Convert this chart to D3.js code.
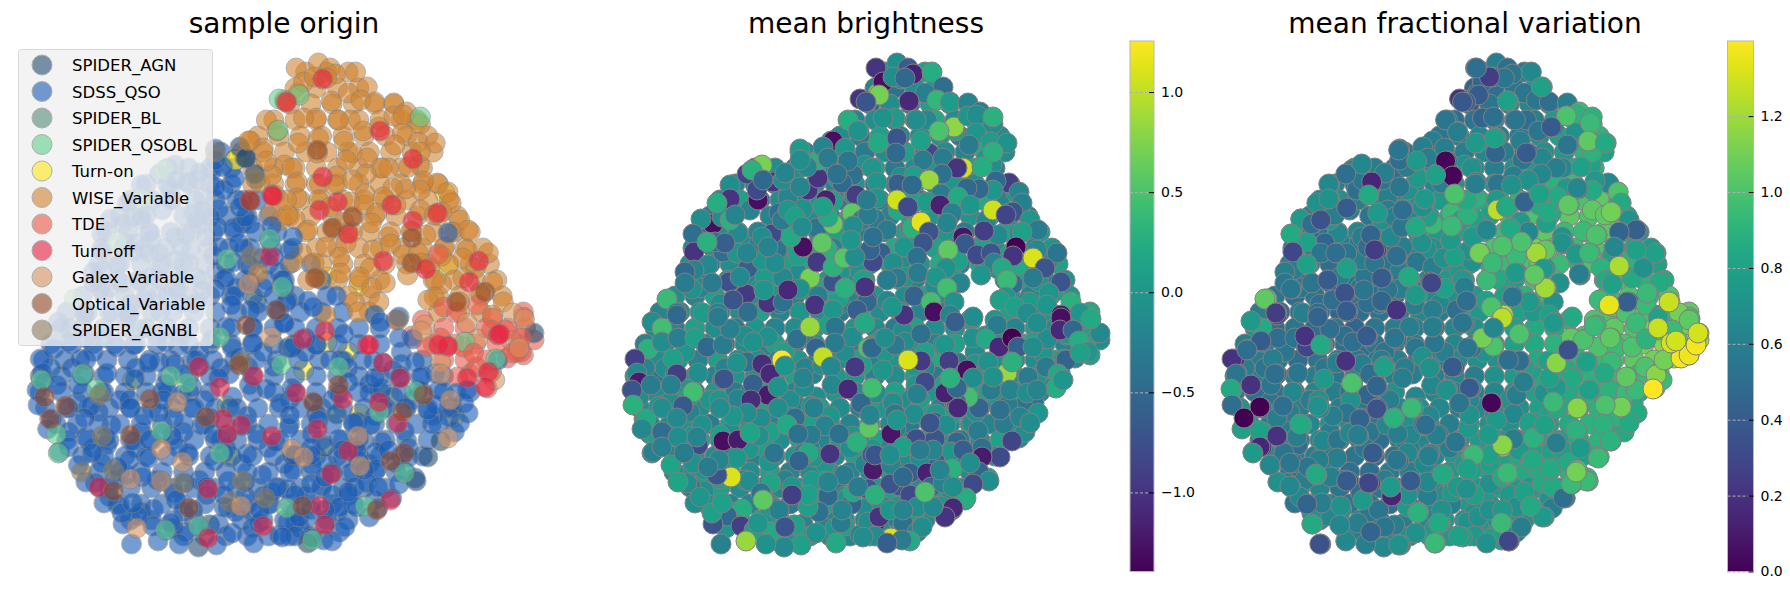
<!DOCTYPE html>
<html>
<head>
<meta charset="utf-8">
<script src="https://cdn.jsdelivr.net/npm/d3@7"></script>
<style>
body { margin: 0; background: white; }
text { font-family: "DejaVu Sans", sans-serif; fill: black; }
</style>
</head>
<body>
<div id="chart"></div>
<script>
var originNames = ["SPIDER_AGN", "SDSS_QSO", "SPIDER_BL", "SPIDER_QSOBL", "Turn-on", "WISE_Variable", "TDE", "Turn-off", "Galex_Variable", "Optical_Variable", "SPIDER_AGNBL"];
var originColors = ["#254d73", "#1b5db7", "#5a8c7b", "#62cf8c", "#ffe817", "#d28430", "#ed5a49", "#e82041", "#d79462", "#944928", "#8c7b5a"];

var brightnessTicks = [-1.0, -0.5, 0.0, 0.5, 1.0];
var fracTicks = [0.0, 0.2, 0.4, 0.6, 0.8, 1.0, 1.2];

// the crowd that is mostly hidden under the top discs, by origin
// rows are [embedding x, embedding y, mean brightness, mean fractional variation]
var fillWise = [
[285,72,-.1,.55],[305,72,-.3,.5],[325,72,.1,.6],
[275,88,-.2,.45],[295,88,-.4,.5],[315,88,-.1,.55],[335,88,0,.7],
[270,104,-.5,.4],[290,104,-.1,.55],[310,104,-.3,.6],[330,104,.1,.65],[350,104,-.2,.7],[368,104,0,.8],
[255,120,-.2,.5],[275,120,-.1,.55],[295,120,-.4,.6],[315,120,0,.55],[335,120,.2,.6],[355,120,-.1,.75],[375,120,-.2,.9],[390,120,.1,.95],
[240,136,-.1,.55],[260,136,-.3,.6],[280,136,.1,.65],[300,136,-.2,.6],[320,136,-.1,.55],[340,136,0,.7],[360,136,-.3,.8],[380,136,.1,.85],[400,136,-.1,.9],
[225,152,-.2,.6],[245,152,0,.55],[265,152,-.3,.6],[285,152,-.1,.65],[305,152,.1,.6],[325,152,-.4,.55],[345,152,-.1,.7],[365,152,-.2,.75],[385,152,.2,.9],[405,152,-.1,.8],
[235,168,-.1,.6],[255,168,-.2,.65],[275,168,.1,.7],[295,168,-.3,.6],[315,168,-.1,.7],[335,168,0,.75],[355,168,-.2,.8],[375,168,.1,.85],[395,168,-.3,.9],
[235,184,-.2,.65],[255,184,0,.7],[275,184,-.3,.75],[295,184,-.1,.7],[315,184,.1,.8],[335,184,-.2,.85],[355,184,0,.9],[375,184,-.1,.95],[395,184,.1,.95],[410,184,-.4,.8],
[260,200,-.1,.8],[280,200,-.3,.85],[300,200,.1,.8],[320,200,-.2,.9],[340,200,0,.95],[360,200,-.1,1],[380,200,.2,1],[400,200,-.2,1.05],[420,200,-.1,.85],
[270,216,0,.9],[290,216,-.2,.8],[310,216,.1,.95],[330,216,-.1,1],[350,216,-.3,.9],[370,216,0,1.05],[390,216,.2,1],[410,216,-.1,1.05],[428,216,-.2,.8],
[285,232,-.1,.85],[305,232,.1,.95],[325,232,-.2,1],[345,232,0,1.05],[365,232,-.3,.95],[385,232,-.1,1],[405,232,.1,1.05],[425,232,-.2,.75],[440,232,0,.7],
[295,248,.2,1],[315,248,-.1,.95],[335,248,.1,1.1],[355,248,-.2,1],[375,248,0,.95],[395,248,-.1,1],[415,248,.1,.9],[435,248,-.2,.8],[452,248,0,.75],
[300,264,-.1,.95],[320,264,0,1],[340,264,.2,1.05],[360,264,-.2,.95],[380,264,.1,.9],[400,264,-.1,.95],[420,264,0,1.1],[440,264,-.2,.85],[458,264,.1,.8],
[315,280,-.2,.8],[335,280,.1,1],[355,280,0,.95],[405,280,-.1,.9],[425,280,.1,1],[445,280,-.3,.9],[465,280,0,.85],
[325,296,.1,.9],[345,296,-.1,.95],[410,296,0,.95],[430,296,-.2,1],[450,296,.1,.95],[470,296,0,1],
[345,312,-.2,.85],[410,312,.1,1],[430,312,-.1,1.05],[450,312,0,1]
];

var fillTip = [
[490,312,.2,1.05],[370,320,-.1,.9],[395,320,0,1],[415,328,-.2,1.05],[435,328,.1,1],[455,328,-.1,1.1],[475,328,0,1.15],[492,328,.1,1.1],
[385,336,0,1],[405,344,-.1,1.05],[425,344,.2,1],[445,344,0,1.1],[465,344,-.2,1.15],[485,344,.1,1.2],[500,340,-.1,1.2],
[415,360,0,1],[435,360,-.1,1.05],[455,360,.1,1.1],[475,358,-.2,1.25],[490,355,.1,1.3],[440,374,0,.95],[460,372,-.1,1.05]
];

var fillQso = [
[205,152,-.2,.55],[155,168,-.3,.55],[175,168,-.1,.6],[195,168,0,.5],[215,168,-.4,.6],
[135,184,-.2,.6],[155,184,-.1,.55],[175,184,-.3,.5],[195,184,0,.6],[215,184,-.2,.65],
[120,200,-.1,.65],[140,200,.1,.7],[160,200,-.4,.55],[180,200,-.1,.6],[200,200,-.2,.65],[220,200,0,.7],[240,200,-.3,.75],
[110,216,-.3,.6],[130,216,0,.65],[150,210,-.2,.6],[170,216,-.2,.55],[190,216,.1,.6],[210,216,-.1,.65],[230,216,-.3,.75],[250,216,0,.85],
[98,232,-.4,.6],[118,232,-.1,.55],[138,232,.1,.6],[158,232,-.2,.65],[178,232,-.1,.5],[198,232,0,.6],[218,232,-.2,.7],[238,232,.1,.75],[258,232,-.3,.8],
[93,248,-.2,.55],[113,248,-.1,.5],[133,248,0,.6],[153,248,-.3,.55],[193,248,.1,.55],[213,248,-.1,.65],[233,248,-.2,.7],[253,248,0,.75],[273,248,-.1,.85],
[90,264,-.1,.6],[110,264,-.4,.55],[130,264,-.1,.5],[150,264,0,.6],[170,264,-.2,.5],[190,264,.1,.55],[210,264,-.2,.6],[230,264,-.1,.65],[250,264,0,.75],[270,264,-.3,.8],[290,264,.1,.9],
[88,280,-.3,.6],[108,280,-.1,.55],[128,280,0,.5],[148,280,-.2,.55],[168,280,.1,.6],[188,280,-.4,.5],[208,280,-.1,.6],[228,280,0,.65],[248,280,-.2,.75],[300,280,-.1,.8],
[75,296,-.1,.55],[95,296,-.2,.5],[115,296,.1,.55],[135,296,-.3,.5],[155,296,-.1,.55],[175,296,0,.5],[195,296,-.2,.55],[215,296,-.1,.6],[235,296,.1,.65],[255,296,-.2,.7],[275,296,0,.75],[305,296,-.1,.8],
[60,312,-.2,.6],[80,312,-.1,.5],[100,312,0,.55],[120,312,-.3,.5],[140,312,-.1,.45],[160,312,.1,.5],[180,312,-.2,.55],[200,312,0,.6],[220,312,-.1,.65],[240,312,-.3,.6],[260,312,.1,.7],[280,312,-.1,.75],[300,312,0,.8],[320,312,-.2,.8],
[55,328,-.1,.7],[75,328,-.2,.5],[95,328,.1,.55],[115,328,-.1,.5],[135,328,-.3,.55],[155,328,0,.45],[175,328,-.2,.55],[195,328,-.1,.6],[215,328,.1,.6],[235,328,-.2,.6],[255,328,0,.65],[275,328,-.1,.7],[295,328,-.3,.75],[315,328,.1,.8],[335,328,-.1,.85],[355,328,0,.85],
[45,344,-.2,.6],[65,344,-.1,.55],[85,344,0,.5],[105,344,-.2,.55],[125,344,-.3,.55],[145,344,-.1,.5],[165,346,-.2,.5],[175,344,.1,.55],[195,344,-.2,.55],[215,344,0,.6],[235,344,-.1,.6],[255,344,-.3,.65],[275,344,.1,.65],[295,344,-.1,.7],[315,344,0,.8],[335,344,-.2,.85],[355,344,.1,.9],[375,352,-.1,.9],
[38,360,-.3,.55],[58,360,-.1,.6],[78,360,0,.55],[98,360,-.2,.5],[118,360,.1,.55],[138,360,-.1,.6],[158,360,-.1,.55],[178,360,-.2,.55],[198,360,0,.6],[218,360,-.3,.6],[238,360,-.1,.6],[258,360,.1,.65],[278,360,-.2,.7],[298,360,0,.7],[318,360,-.1,.8],[338,360,.2,.85],[375,364,0,.9],[395,360,-.1,.95],
[35,376,-.1,.55],[55,376,-.4,.6],[75,376,.1,.55],[95,376,-.1,.6],[115,376,-.2,.6],[135,376,0,.55],[155,376,-.1,.6],[175,376,-.3,.55],[195,376,.1,.6],[213,374,-.2,.6],[235,376,-.1,.6],[255,376,0,.65],[275,376,-.2,.6],[295,376,-.1,.7],[315,376,.1,.75],[335,376,-.3,.8],[355,376,0,.85],[375,376,-.1,.85],[395,376,.1,.9],[415,376,.1,.95],
[35,392,-.2,.6],[55,392,-.1,.5],[75,392,.1,.55],[95,392,-.2,.6],[115,392,0,.65],[135,392,-.3,.6],[155,392,-.1,.6],[175,392,.1,.65],[195,392,-.2,.7],[216,397,-.1,.65],[235,392,0,.65],[255,392,-.1,.6],[275,392,-.2,.6],[295,392,.1,.65],[315,392,-.1,.7],[335,392,0,.8],[355,392,-.2,.85],[375,392,.1,.85],[395,392,-.1,.9],[415,392,0,.9],[440,392,-.2,.85],
[40,408,-.1,.7],[60,408,-.2,.55],[80,408,0,.55],[100,408,-.1,.6],[120,408,.1,.65],[140,408,-.2,.6],[160,408,-.1,.55],[180,408,0,.6],[200,408,-.3,.65],[220,408,.1,.7],[240,408,-.1,.65],[260,408,-.2,.6],[280,408,0,.65],[300,408,-.1,.7],[320,408,.1,.7],[340,408,-.2,.8],[360,408,-.1,.85],[380,408,0,.85],[400,408,-.3,.9],[420,408,-.1,.9],
[50,424,-.2,.7],[70,424,-.1,.6],[90,424,0,.6],[110,424,-.3,.65],[130,424,.1,.7],[150,424,-.1,.65],[170,424,-.2,.55],[190,424,0,.65],[210,424,-.1,.7],[230,424,.1,.65],[250,424,-.2,.6],[270,424,0,.7],[290,424,-.1,.7],[310,424,-.3,.7],[330,424,.1,.75],[350,424,-.1,.8],[370,424,0,.85],[390,424,-.2,.9],[410,424,-.1,.85],
[60,440,-.1,.6],[80,440,-.2,.55],[100,440,.1,.6],[120,440,-.1,.65],[140,440,0,.6],[160,440,-.3,.55],[180,440,-.1,.5],[200,440,.1,.6],[220,440,-.2,.65],[240,440,0,.6],[260,440,-.1,.7],[280,440,.1,.75],[300,440,-.2,.75],[320,440,-.1,.75],[340,440,0,.8],[360,440,-.3,.8],[380,440,-.1,.85],[400,440,.1,.9],
[75,456,-.2,.65],[95,456,0,.6],[115,456,-.1,.6],[135,456,.1,.55],[155,456,-.2,.55],[175,456,-.1,.5],[195,456,0,.55],[215,456,-.3,.6],[235,456,-.1,.65],[255,456,.1,.75],[275,456,-.2,.8],[295,456,0,.8],[315,456,-.1,.85],[335,456,.1,.85],[355,456,-.2,.85],[375,456,-.1,.9],[395,456,0,.9],
[90,472,-.1,.55],[110,472,-.3,.6],[130,472,0,.6],[150,472,-.1,.5],[170,472,.1,.5],[190,472,-.2,.6],[210,472,-.1,.6],[230,472,0,.65],[250,472,-.2,.75],[270,472,-.1,.75],[290,472,.1,.8],[310,472,-.1,.8],[330,472,-.3,.8],[350,472,0,.85],[370,472,-.1,.9],[388,478,.1,.95],
[100,488,-.2,.6],[120,488,.1,.65],[140,488,-.1,.55],[160,488,0,.5],[180,488,-.2,.55],[200,488,-.1,.6],[220,488,.1,.6],[240,488,-.3,.7],[260,488,-.1,.75],[280,488,0,.75],[300,488,-.2,.8],[320,488,-.1,.75],[340,488,.1,.8],[360,488,-.1,.8],
[110,504,-.1,.6],[130,504,-.2,.65],[150,504,-.2,.55],[170,504,0,.55],[190,504,-.3,.5],[212,508,-.1,.55],[230,504,-.1,.6],[250,504,.1,.7],[270,504,-.2,.75],[290,504,-.1,.7],[310,504,0,.8],[330,504,-.2,.75],[350,500,-.1,.7],
[120,520,-.2,.7],[140,520,-.1,.65],[160,520,.1,.6],[180,520,-.1,.55],[203,524,-.2,.6],[225,520,-.2,.65],[245,520,0,.75],[265,520,-.1,.75],[285,520,-.3,.7],[305,520,.1,.85],[325,520,-.1,.7],
[170,536,-.1,.55],[190,536,0,.65],[210,536,.1,.7],[230,536,-.1,.8],[250,536,-.2,.75],[270,536,0,.8],[290,536,.1,.7],
[70,402,-.1,.55],[90,412,-.2,.6],[110,400,0,.6],[130,432,-.1,.6],[150,392,-.2,.55],[170,432,.1,.55],[190,400,-.1,.6],[210,448,-.2,.6],[230,416,0,.65],[250,448,-.1,.6],[270,400,.1,.65],[290,448,-.2,.75],[310,400,-.1,.7],[330,448,0,.8],[350,416,-.2,.8],
[85,448,-.1,.6],[105,480,0,.6],[125,448,-.2,.6],[145,480,-.1,.5],[165,448,.1,.55],[185,480,-.2,.6],[205,440,-.1,.6],[225,464,0,.65],[245,496,-.1,.7],[265,464,-.2,.75],[285,496,.1,.75],[305,464,-.1,.8],[325,496,0,.8],[345,464,-.2,.85],
[130,512,-.1,.6],[170,512,0,.55],[235,512,-.2,.65],[275,512,-.1,.7],[315,512,.1,.75],[160,528,-.2,.55],[235,528,0,.75],[280,528,-.1,.75],
[45,368,-.2,.6],[65,368,-.1,.55],[85,352,0,.55],[125,368,-.2,.55],[145,336,-.1,.5],[185,352,.1,.55],[205,368,-.2,.6],[245,352,-.1,.6],[285,352,0,.7],[325,368,-.2,.8],[345,384,.1,.85],[385,400,-.1,.9],[405,416,0,.9],
[100,288,-.2,.55],[120,304,-.1,.5],[160,288,0,.55],[180,304,-.3,.55],[200,272,-.1,.6],[220,288,.1,.65],[240,304,-.2,.65],[260,272,0,.75],[140,240,-.1,.6],[185,224,-.2,.55],[225,224,0,.7]
];

// seen in the sample origin panel, they sit on top of the fill there
// rows are [embedding x, embedding y, origin index, mean brightness]
var originAccents = [
[301,79,7,-.1],[267,102,7,-.3],[355,131,7,.1],[386,159,7,0],[301,177,7,-.1],[315,202,7,.1],[298,210,7,.2],[366,205,7,0],[386,221,7,-.2],[409,213,7,-.1],
[325,234,7,0],[358,261,7,.1],[448,261,7,-.2],[439,282,7,0],[466,335,7,-.1],[251,256,7,-.2],[253,195,7,.1],[232,200,7,-.3],[303,331,7,-.1],[282,339,7,0],[343,345,7,-.2],
[296,150,9,-.1],[329,217,9,0],[310,228,9,-.1],[385,238,9,.1],[385,263,9,-.1],[294,278,9,0],[427,302,9,-.2],[454,292,9,.1],
[416,193,4,0],[419,265,4,.2],[305,277,4,0],[390,123,4,.1],[335,286,4,-.1],[259,130,3,.1],[419,233,1,-.1],[398,269,7,0],[410,254,6,.1],
[36,380,3,.1],[75,374,3,-.2],[88,389,3,0],[50,434,3,.1],[52,453,3,0],[158,376,3,-.1],[173,383,3,.1],[149,431,3,0],[204,453,3,-.2],[262,365,3,.1],[263,287,3,0],[211,259,3,.2],[251,239,3,.1],
[267,508,3,-.1],[153,530,3,.1],[184,526,3,0],[291,540,3,-.1],[341,506,3,0],[378,473,3,-.1],[354,412,3,.1],[464,359,3,0],[435,342,3,.1],[204,337,3,-.2],[316,367,3,0],[388,391,3,.1],
[122,380,4,-.1],[91,395,10,0],[271,346,4,.1],[225,361,10,-.1],[238,299,4,.1],[214,457,4,0],[303,446,4,.1],[314,414,4,-.1],[336,414,4,0],[363,395,4,.1],
[184,367,7,-.2],[204,387,7,-.1],[236,376,7,0],[224,425,7,-.2],[211,434,7,-.1],[207,419,7,.1],[253,436,7,0],[276,393,7,-.1],[296,429,7,-.2],[320,399,7,.1],[345,345,7,0],[358,363,7,-.1],[374,378,7,0],
[309,474,7,.1],[325,451,7,-.2],[193,489,7,0],[90,487,7,-.1],[245,526,7,.1],[193,538,7,0],[303,525,7,-.1],[298,506,7,0],[365,500,7,.1],[372,423,7,-.1],[437,378,7,0],[457,372,7,.1],[454,387,7,-.2],[354,402,7,0],[419,346,7,.1],[410,345,7,-.1],[468,334,7,0],[488,338,6,.1],[484,352,6,0],
[39,397,9,-.1],[44,419,9,.1],[59,406,9,0],[138,399,9,-.2],[120,435,9,.1],[93,436,10,0],[74,472,10,-.1],[104,470,10,0],[120,479,8,.1],[104,491,9,-.1],[149,449,8,0],[164,402,8,.1],[191,417,9,-.1],[169,462,8,0],[149,481,8,.1],[169,483,10,-.2],[126,528,8,0],[175,508,9,-.1],[225,481,10,.1],[247,498,10,0],[214,502,10,-.1],
[272,449,8,0],[283,457,8,.1],[292,402,9,-.1],[258,310,9,0],[229,325,9,.1],[252,337,8,-.1],[316,385,9,0],[334,436,8,.1],[376,412,9,-.1],[396,395,9,0],[421,400,8,.1],[419,438,8,-.1],[412,374,8,0],[372,320,10,.1],[394,331,8,-.1],[443,353,6,0],[486,348,8,.1],[282,506,9,-.1],[352,510,9,0],[378,453,9,.1],[365,461,9,-.1],[336,466,8,0],[224,506,8,.1],[222,365,9,-.1],[240,273,5,0],[231,284,8,.1],[233,256,10,-.1],
[211,406,4,0],[325,352,4,.1],[305,342,4,-.1],[283,370,4,0],[425,417,4,.1],[194,525,4,-.1],
[229,158,0,-.1],[200,152,10,0],[231,141,5,.1],[218,160,4,-.1],[238,179,10,0],[233,201,9,.1],[254,196,7,-.1]
];

// the top discs of the middle panel
// rows are [embedding x, embedding y, origin index, mean brightness, mean fractional variation]
var upperLeft = [
[162,165,1,.7,.6],[147,174,1,-.85,.5],[173,182,1,-1,.15],[130,185,1,-.1,.65],[158,200,1,-1.3,.6],[130,199,3,-1,.7],[113,224,1,-1.3,.5],[101,219,1,-.1,.75],[93,234,1,-.45,.85],[94,252,1,-1,.3],
[108,265,1,-.15,.8],[123,252,1,-.45,.55],[137,253,1,0,.5],[148,268,1,-.6,.8],[129,282,1,-.75,.4],[146,294,1,-.95,.35],[92,289,1,-.05,.55],[94,270,1,-.2,.6],[67,299,3,.4,1.05],[77,313,1,-.4,.25],
[103,313,1,.05,.6],[148,312,1,-.45,.4],[168,303,1,-1,.5],[183,302,1,-.4,.45],[165,277,1,.05,.55],[183,278,1,-.15,.4],[210,278,1,.7,.85],[233,282,1,-.7,.3],[218,296,1,-.25,.75],[200,289,1,-.05,.6],
[215,305,1,-1,.6],[198,256,1,.1,.5],[177,250,1,-.35,.25],[172,234,1,-.8,.45],[179,213,1,-.45,.75],[203,247,1,-1.3,.6],[227,249,1,.3,.7],[217,262,1,-.95,.55],[233,267,1,.3,.6],[244,258,1,.55,.7],
[191,237,1,.2,.65],[203,209,1,-.05,.5],[217,228,1,-.35,.85],[233,224,1,.65,.95],[226,200,1,-1.15,.75],[208,190,1,-1,.7],[218,178,1,-1,.75],[219,160,4,.3,.75],[200,149,1,.05,.55],[233,141,5,-1.3,.6],
[223,147,0,-.2,.6],[188,197,1,-.2,.6],[182,220,1,-.3,.7],[164,290,1,0,.55],[133,300,1,-.7,.5],[118,313,1,-.2,.5],[183,180,1,-.1,.55],[197,170,1,-.1,.5],[207,167,1,-.15,.6],[228,158,0,-.3,.6],
[188,290,1,-1.1,.55],[140,277,1,-.15,.6],[112,283,1,-.3,.55],[85,272,1,-.5,.6],[85,283,1,-.3,.55],[138,233,1,-.15,.65],[122,217,1,-.1,.65],[117,203,1,.25,.7],[130,220,1,.3,.75],[135,215,1,-.2,.6],
[115,242,1,-.4,.5],[125,243,1,-.6,.45],[107,242,3,.3,.8],[162,260,1,0,.6],[175,263,1,-.1,.55],[162,237,1,-.1,.6],[168,247,1,-.2,.5],[147,253,1,-.2,.55],[157,190,1,-.8,.5],[152,170,3,.3,.65],
[163,180,1,-.5,.55],[185,173,1,-.2,.6],[188,210,1,0,.6],[200,187,1,-.2,.55],[200,160,1,-.1,.5],[228,217,1,.2,.8],[195,217,1,.1,.6],[202,227,1,-.1,.55],[222,243,1,.6,.7],[223,207,1,.1,.7]
];

var topLobe = [
[265,100,5,-.6,.4],[248,120,5,.25,.55],[258,131,5,-.05,.6],[260,99,3,-1,.2],[278,93,5,.7,.5],[276,68,5,-1,.5],[245,148,5,0,.6],[265,165,5,-.05,.7],[253,175,5,-.4,.55],
[242,183,5,-.5,.6],[272,168,5,0,.7],[277,182,5,0,.65],[248,161,5,-.35,.55],[237,174,0,-.4,.6],[256,195,5,-.9,.85],[297,63,5,-.1,.6],[308,68,5,-.6,.5],[313,74,5,-1.15,.55],[332,72,5,.25,.65],
[283,82,5,-1.3,.45],[293,77,5,-.1,.5],[305,78,5,-.5,.55],[343,87,5,-.45,.75],[325,93,5,-.25,.55],[309,101,5,-1.1,.75],[279,95,3,.7,.4],[266,102,5,-.7,.4],[337,100,5,.35,.55],[350,102,5,.05,.5],
[368,103,5,-.2,.6],[380,112,5,-.25,.95],[295,118,5,.05,.55],[327,120,5,-.15,.5],[283,118,5,-.05,.45],[316,120,5,-.1,.55],[354,127,5,.8,.45],[339,131,5,.5,.55],[368,116,5,0,.95],[377,115,5,-.1,.9],
[393,124,5,-.1,.95],[393,117,3,.3,.9],[376,133,5,0,.7],[391,142,5,.05,.95],[407,143,5,-.05,.85],[369,145,5,-.3,.55],[278,143,5,.2,.7],[297,138,5,-.7,.75],[296,153,5,-.5,.45],[329,153,5,-.8,.4],
[321,141,5,.1,.6],[343,158,5,-.3,.65],[323,160,5,-.3,.55],[392,165,5,-.1,.8],[393,152,5,.3,.9],[363,168,5,1.05,.65],[357,168,5,-1,.6],[382,167,5,.25,.8],[342,174,5,-.4,.65],[314,176,5,.1,.6],
[329,180,5,.85,.7],[298,184,5,-.6,.55],[312,185,5,-.5,.7],[409,183,5,-.9,.65],[396,181,5,-.5,.75],[393,190,5,0,.85],[379,189,5,-.5,.65],[367,188,5,-.5,.75],[419,192,5,-.2,1],[422,203,5,-.25,.85]
];

var upperRight = [
[341,194,5,-.3,.7],[277,198,5,0,.9],[358,197,5,.2,.85],[297,200,5,1.05,.75],[308,207,5,-.8,.8],[327,202,5,.05,.7],[340,205,5,-1.15,.85],[370,205,5,0,1],[393,210,5,1.05,1.05],[413,212,5,-.7,1],
[406,215,5,-.85,1.05],[352,213,5,-.25,.85],[275,219,5,-.3,.8],[430,220,5,0,.7],[438,230,5,-.3,.45],[422,232,5,.1,.7],[398,235,5,-.15,1],[384,231,5,-.9,.95],[347,223,5,-.2,.8],[312,228,5,.3,.85],
[321,222,5,1.15,.75],[287,230,5,-.3,.7],[329,232,5,-.7,.65],[363,237,5,-1.25,.7],[365,244,5,-.65,.75],[323,243,5,-.7,.95],[304,247,5,0,1],[416,247,5,-1.4,.7],[413,256,5,-1,.8],[437,250,5,-.15,.8],
[457,253,5,-.35,.8],[433,258,5,1.1,.9],[445,268,5,-.7,.7],[377,255,5,-.8,.75],[391,253,5,-.7,.95],[348,250,5,.6,1.05],[281,253,5,-.6,1.05],[273,262,5,-.8,.7],[293,263,5,-.1,.95],[317,257,5,-.4,.95],
[394,263,5,-.2,1],[318,273,5,-.3,.75],[346,268,5,-.05,.75],[336,277,5,0,1.05],[360,283,5,-.2,.7],[381,275,5,0,.6],[402,268,5,.2,.9],[297,278,5,-.3,.85],[287,280,5,-.3,.95],[265,280,1,0,.8],
[347,288,5,.45,1.2],[314,296,1,-.55,.55],[331,302,5,.45,.75],[334,312,5,-1.3,.75],[304,315,5,-1,1.25],[268,300,1,-.5,.5],[287,301,1,-.15,.8],[292,307,1,0,1],[354,302,5,-.05,.7],[413,284,5,-.45,.8],
[407,280,5,.4,.85],[433,278,5,-.3,.85],[461,282,5,-.7,.85],[449,293,5,0,.95],[430,302,5,.05,.45],[406,297,5,0,.9],[400,300,5,.1,.95],[471,302,5,.3,1.28],[447,305,6,0,.95],[461,315,5,-1.2,.8],
[415,307,6,.1,1],[490,317,6,.3,1.05],[480,313,8,0,1.1],[427,313,6,-.1,1],[373,317,1,-.1,.85],[350,315,1,-.2,.8],[270,250,1,-.55,.7],[273,237,1,-.4,.75],[255,257,1,-.1,.8],[267,302,1,-.5,.5],
[263,280,1,.1,.75],[265,287,1,-1,.6],[245,288,1,.3,.8],[257,310,1,-.6,.5],[233,310,1,0,.6],[252,213,5,.6,.95],[262,220,5,-.2,.8],[268,215,5,-.3,.9],[267,200,5,-.3,.85],[253,226,1,-.1,.9],[251,240,1,0,.75]
];

var lowerLeft = [
[52,322,1,-.1,.75],[77,315,1,-.5,.3],[62,328,1,.45,.85],[48,349,1,.3,.55],[62,342,1,-.1,.4],[35,359,1,-.9,.2],[73,359,1,.1,.6],[78,338,1,-.25,.5],[95,338,1,.1,.55],[107,347,1,-.5,.3],
[37,373,1,-.15,.55],[39,382,1,-1.2,.4],[32,390,1,-.7,.85],[51,385,1,-.3,.3],[33,405,1,.3,.5],[77,374,1,-.9,.5],[98,373,1,-.1,.55],[93,392,1,.45,.65],[71,385,1,-.25,.55],[83,406,1,-.65,.5],
[62,408,1,-.1,.55],[46,419,1,.2,.7],[42,429,1,-.15,.8],[62,432,1,-.45,.8],[102,425,1,-.05,.85],[77,418,1,-.15,.6],[53,452,1,-.25,.75],[62,447,1,-.25,.2],[78,437,1,-.1,.3],[98,445,1,-.8,.5],
[97,437,1,-.2,.6],[71,465,1,.15,.65],[93,463,1,-.05,.55],[84,453,1,-.3,.55],[91,487,1,-.3,.65],[87,483,1,-.1,.6],[123,441,1,-1.3,.65],[138,440,1,-1.2,.55],[119,400,1,0,.7],[124,379,1,-.7,.75],
[123,345,1,-.3,.8],[130,329,1,-.25,.5],[118,317,1,-.3,.45],[147,362,1,-.4,.2],[137,363,1,-.05,.6],[153,384,1,-.6,1],[162,364,1,-1.05,.6],[170,374,1,-1.1,.5],[168,395,1,-1.2,.45],[151,400,1,-1.05,.7],
[178,387,1,-.05,.45],[182,360,1,1.25,.6],[185,366,1,0,.6],[168,337,1,-.05,.45],[153,342,1,-.05,.5],[197,339,1,-.4,.55],[210,327,1,.85,.6],[235,327,1,-.35,.55],[264,323,1,.1,.65],[216,348,1,-.55,.55],
[235,343,1,-.3,.55],[223,357,1,1,.7],[231,367,1,-.15,.6],[255,367,1,-.95,.4],[268,348,1,.5,.7],[272,348,1,-.5,.55],[203,378,1,-.2,.6],[232,385,1,-.15,.65],[248,389,1,-1.1,.7],[261,403,1,-.5,.55],
[272,388,1,.45,.65],[214,408,1,-.25,.8],[195,418,1,-.45,.7],[178,408,1,-.1,.35],[187,425,1,.2,.65],[161,418,1,-.1,.45],[147,413,1,-.1,.55],[133,416,1,0,.6],[120,408,1,-.1,.65],[159,436,1,-.05,.6],
[174,453,1,-.35,.4],[150,433,1,.15,.65],[225,426,1,-.2,.5],[211,435,1,-.3,.65],[239,434,1,-.4,.6],[198,434,1,-.4,.6],[257,442,1,.3,.55],[269,428,1,.6,.75],[230,454,1,-1,.6],[208,453,1,.2,.65],
[199,461,1,-.55,.55],[272,455,1,-.6,.9],[273,470,1,-1.2,.8],[244,475,1,-.3,.85],[212,481,1,.05,.4],[171,483,1,.15,.3],[192,487,1,0,.75],[149,481,1,-.1,.4],[228,496,1,-.5,.6],[268,489,1,-.7,.7],
[252,504,1,-.55,.6],[219,512,1,-.4,.9],[179,510,1,-.25,.55],[142,509,1,.25,.7],[108,505,1,-.05,.45],[127,516,1,-.5,.65],[113,524,1,-.7,.85],[141,526,1,-.9,.65],[154,530,1,.1,.6],[172,532,1,.2,.45],
[195,525,1,.1,.6],[216,533,1,-.05,.7],[241,523,1,-.3,.85],[260,535,1,-.2,.8],[236,543,1,.2,.95],[201,545,1,.1,.7],[184,547,0,-.15,.65],[166,544,1,-.05,.6],[121,544,1,-.25,.35],[146,541,1,.85,.65],
[131,477,1,1.1,.6],[117,475,1,-.7,.85],[137,458,1,0,.6],[119,460,1,-.2,.6],[108,467,1,-.3,.55],[208,507,1,.1,.75],[208,495,1,.1,.7],[161,493,1,-.35,.5],[163,500,1,.6,.75],[192,495,1,-.9,.15],
[228,482,1,-.2,.65],[253,492,1,.2,.75],[275,523,1,-1.2,.75],[268,522,1,-.1,.7],[258,487,1,-.3,.75],[242,510,1,-.2,.7],[158,523,1,0,.6],[185,527,1,-.7,.55],[95,503,1,-.1,.55],[78,482,1,.15,.7],
[100,497,1,0,.65],[112,513,1,.1,.7],[122,503,1,.1,.6]
];

var lowerRight = [
[355,322,1,-.6,.7],[321,334,1,-.4,.7],[295,345,1,-.3,.75],[285,338,1,-.1,.9],[265,323,1,.2,.65],[321,361,1,-.95,.6],[308,360,1,1.1,.65],[358,363,1,-.3,.9],[349,361,1,-.9,.8],[367,370,1,-1.3,.85],
[397,325,8,-.3,.95],[373,338,1,-.05,.95],[386,339,1,.2,.95],[399,347,6,-1.1,1],[412,338,6,-1.4,.95],[418,347,6,-.6,.95],[388,362,1,-.05,.85],[407,373,1,.85,1],[412,362,8,.3,.95],[428,377,6,-.3,1],
[447,339,8,-.1,1],[461,318,6,-1.3,.95],[460,330,6,-1.1,1],[473,330,6,-.5,1.05],[479,341,8,.25,1.05],[500,333,0,-.15,1.3],[491,319,8,.2,1],[488,352,6,0,1],[466,360,1,-.55,1],[446,367,6,-.3,1],
[458,374,6,.2,1],[456,388,6,.25,.95],[434,403,1,-.4,.85],[423,407,1,-.35,.9],[438,413,1,0,.85],[408,405,1,-.3,.9],[391,390,1,-.3,.9],[379,408,1,-.55,.85],[393,377,1,-.05,.9],[373,378,1,-.1,.85],
[368,397,1,.45,.85],[356,402,1,-.45,.8],[358,408,1,-1.1,.85],[345,393,1,-1.15,.7],[357,388,1,-.5,.75],[350,378,1,.3,.8],[325,382,1,-.8,.65],[317,394,1,-.25,.6],[293,403,1,-.1,.65],[270,415,1,-.2,.7],
[295,414,1,-.3,.7],[314,414,1,-.1,.65],[334,422,1,-.5,.8],[346,425,1,-.1,.8],[291,434,1,-1.25,.75],[316,439,1,-.75,.7],[335,439,1,-.7,.85],[378,431,1,-.3,.85],[404,424,1,-.3,.9],[425,432,1,-.1,.85],
[412,441,0,-.85,.85],[400,457,0,-.8,.9],[382,448,1,-.4,.8],[382,457,1,-1.2,.8],[357,442,1,-.5,.7],[351,452,1,0,.8],[335,461,1,-.55,.85],[303,447,1,.1,1.1],[320,458,1,-.1,.85],[275,455,1,-.7,.9],
[291,465,1,-.2,.8],[310,473,1,-.6,.9],[327,473,1,-1.15,.85],[352,469,1,.3,.85],[379,472,1,-.5,1],[389,481,0,-.1,.95],[373,484,1,-.8,.95],[331,487,1,-.5,.75],[300,486,1,-.7,.75],[290,484,1,-.7,.7],
[310,495,1,-.8,.75],[275,495,1,.3,.8],[366,498,1,.25,.55],[353,508,1,-1.1,.6],[345,517,1,-1,.75],[317,507,1,-.1,.7],[333,507,1,-.15,.8],[325,492,1,.5,.8],[279,517,1,-1,.7],[303,523,1,-.4,.9],
[317,532,1,-.2,.6],[322,527,1,-.1,.6],[291,538,1,1.1,.8],[310,541,1,.2,.35],[302,540,1,-.3,.8],[275,536,1,-.1,.75],[263,537,1,-.1,.8],[287,543,0,-.6,.7],[290,510,1,0,.7],[303,510,1,-.2,.75],
[297,420,1,0,.75],[330,423,1,-.7,.8],[290,455,1,-.1,.8],[343,483,1,-.2,.85],[353,487,1,-.1,.85],[340,470,1,-.2,.85],[363,450,1,-.6,.8],[370,463,1,-.1,.85],[303,477,1,-.5,.85],[333,450,1,-.2,.8],
[320,450,1,-.3,.75],[410,390,1,-.2,.9],[400,410,1,-.4,.9],[420,417,1,-.2,.9],[430,423,1,-.1,.85],[427,393,1,-.1,.95],[437,390,1,-.2,.95],[463,380,8,0,.95],[480,353,6,.1,1.05],[433,347,6,-.1,1],[437,323,8,-.1,.95]
];

// rows are [embedding x, embedding y, mean fractional variation], the top
// discs read off the third panel only
var fracHighlights = [
[290,77,.25],[277,68,.5],[342,87,.8],[308,101,.8],[263,102,.38],[367,116,1],[391,123,.95],[352,127,.4],[389,141,1.05],[406,143,.85],[368,145,.55],[327,153,.4],[295,138,.8],[294,117,.5],[246,120,.55],[258,132,.6],[276,143,.75],
[246,161,.02],[253,176,.02],[217,161,.75],[256,195,.95],[276,184,.6],[199,150,.55],[236,175,.8],[172,182,.15],[169,195,.85],[147,208,.4],[162,164,.65],[146,174,.5],[129,184,.65],[129,199,.7],[101,219,.75],[112,224,.5],[121,220,.35],[91,234,.85],[93,252,.3],[121,253,.55],[136,253,.5],[107,264,.8],
[91,289,.55],[65,299,1.05],[76,313,.25],[128,280,.4],[147,268,.8],[145,293,.35],[147,311,.4],[51,321,.75],[61,341,.4],[32,359,.2],[47,350,.5],[36,374,.55],[75,374,.5],[105,336,.2],[121,345,.85],[167,336,.4],[195,338,.55],[182,301,.45],[197,310,.2],[231,282,.25],[216,295,.75],[209,277,.85],[182,278,.4],
[216,227,.85],[203,210,.5],[178,213,.75],[225,199,.75],[252,226,.95],[171,235,.45],[175,250,.25],[197,256,.5],[146,361,.2],[184,367,.8],[152,383,1],[177,386,.45],[51,385,.2],[31,389,.85],[32,405,.5],[60,407,0],[44,418,0],[60,431,.8],[83,406,.5],[77,436,.2],[60,447,.15],[53,453,.75],[100,424,.85],[118,406,.7],
[177,409,.35],[160,419,.45],[158,435,.6],[194,418,.9],[212,408,.95],[224,425,.5],[273,455,.9],[197,460,.55],[211,481,.4],[169,483,.3],[147,481,.4],[173,453,.4],[116,474,.85],[90,463,.55],[70,465,.65],[90,486,.65],[107,504,.45],[141,506,.7],[192,496,.15],[191,487,.75],[218,513,.9],[243,474,.85],[267,489,.7],[302,523,.95],[309,541,.3],[235,543,.95],[199,545,.7],[120,544,.35],[112,524,.85],[140,525,.65],[171,532,.45],[239,523,.85],[259,536,.8],
[343,517,.75],[364,498,.5],[387,481,.95],[372,484,.95],[378,470,1],[308,474,.9],[331,506,.85],[352,468,.8],[331,461,.85],
[459,318,.8],[490,320,1.05],[473,330,.95],[487,350,1.05],[457,375,1.15],[465,360,1.1],[428,302,.42],[448,293,.95],[410,305,1.35],[413,284,.8],[420,266,1.22],[456,253,.8],[444,268,.7],[437,230,.42],[420,232,.45],[415,247,.65],[437,250,.8],[412,212,1.1],[397,235,1],[369,205,1.05],[378,188,.65],[298,210,1.25],[307,207,.85],[325,202,.45],[340,194,.8],[255,194,1],[252,226,.95],[287,230,.65],[311,228,.85],[348,212,.85],[363,243,.7],[377,254,.75],[390,253,.95],[346,250,1.05],[337,253,1.2],[322,242,1],[303,246,1],[280,253,1.1],[293,263,.95],[316,273,.75],[344,269,.75],[380,274,.6],[346,288,1.2],[335,275,1.05],[330,302,.75],[313,297,.55],[303,318,1.25],[320,334,1],[294,346,1],[283,338,1.1],[294,328,.65],[354,323,.75],[372,338,1.05],[384,340,1],[357,363,1.15],[369,350,.35],[387,362,.8],[411,338,1.05],[395,326,.95],[447,339,.9],[427,377,1.05],[405,373,.85],[390,390,.8],[378,408,1.15],[422,407,1.1],[406,405,1],[354,402,.95],[320,361,.5],[309,360,.5],[253,367,.4],[230,368,.7],[247,390,.7],[270,388,.4],[260,403,.55],[292,403,.02],[317,395,.6],[324,382,.6],[232,283,.3],[267,301,.5],[233,327,.6],[263,323,.55],[268,348,.55],[377,430,.9],[404,424,.9],[411,441,.9],[399,458,.95],[351,469,.85],[377,472,1.1],[381,448,.75],[357,443,.6],[334,438,.9],[345,425,.8],[314,439,.6],[303,445,1.15],[289,435,.75],[274,455,.95],[256,442,.55],[237,435,.6],[226,425,.5],[268,469,.8],[229,456,.6],[308,473,.95],[333,460,.85],
[482,358,1.38],[490,355,1.36],[497,345,1.38],[472,343,1.3],[459,328,1.28],[477,341,1.3],[454,389,1.4],[470,302,1.28],[499,333,1.3]
];

// fill rows get their origin here so all rows read [x, y, origin, brightness, frac]
function withOrigin(rows, o) {
	return rows.map(function(d) {return [d[0], d[1], o, d[2], d[3]]});
}
var fillPoints = withOrigin(fillWise, 5).concat(withOrigin(fillTip, 6), withOrigin(fillQso, 1));
var topPoints = upperLeft.concat(topLobe, upperRight, lowerLeft, lowerRight);

// pale turn-on discs go under the blue, the rest stay on top
var accentsUnder = originAccents.filter(function(d) {return d[2] == 4});
var accentsOver = originAccents.filter(function(d) {return d[2] != 4});

var svg = d3.select("#chart").append("svg")
	.attr("width", 1790)
	.attr("height", 590);

var pointRadius = 10;

// same embedding in every panel, only the x range differs a little
var y = d3.scaleLinear().domain([63, 547]).range([63, 547]);
var x1 = d3.scaleLinear().domain([32, 500]).range([37, 534]);
var x2 = d3.scaleLinear().domain([32, 500]).range([632, 1100]);
var x3 = d3.scaleLinear().domain([32, 500]).range([1232, 1699]);

var brightnessColor = d3.scaleSequential(d3.interpolateViridis).domain([-1.395, 1.255]);
var fracColor = d3.scaleSequential(d3.interpolateViridis).domain([0, 1.398]);

function title(label, cx) {
	svg.append("text")
		.attr("x", cx)
		.attr("y", 33)
		.attr("text-anchor", "middle")
		.style("font-size", "28px")
		.text(label);
}
title("sample origin", 284);
title("mean brightness", 866);
title("mean fractional variation", 1465);

// left panel
svg.append("g").selectAll("circle")
	.data(accentsUnder.concat(fillPoints, topPoints, accentsOver))
	.enter().append("circle")
	.attr("cx", function(d) {return x1(d[0])})
	.attr("cy", function(d) {return y(d[1])})
	.attr("r", pointRadius)
	.attr("fill", function(d) {return originColors[d[2]]})
	.attr("stroke", "#808080")
	.attr("stroke-width", 1)
	.attr("opacity", 0.6);

// legend box goes over the points
var legend = svg.append("g");
legend.append("rect")
	.attr("x", 18.5)
	.attr("y", 49.5)
	.attr("width", 194)
	.attr("height", 296)
	.attr("rx", 3)
	.attr("fill", "#f0f0f0")
	.attr("fill-opacity", 0.8)
	.attr("stroke", "#d8d8d8")
	.attr("stroke-width", 1);

var legendY = d3.scalePoint().domain(originNames).range([65, 330]);

legend.selectAll("circle")
	.data(originNames)
	.enter().append("circle")
	.attr("cx", 42)
	.attr("cy", function(d) {return legendY(d)})
	.attr("r", pointRadius)
	.attr("fill", function(d, i) {return originColors[i]})
	.attr("stroke", "#808080")
	.attr("opacity", 0.6);

legend.selectAll("text")
	.data(originNames)
	.enter().append("text")
	.attr("x", 72)
	.attr("y", function(d) {return legendY(d) + 6})
	.style("font-size", "16.5px")
	.text(function(d) {return d});

// middle panel
svg.append("g").selectAll("circle")
	.data(fillPoints.concat(originAccents, topPoints))
	.enter().append("circle")
	.attr("cx", function(d) {return x2(d[0])})
	.attr("cy", function(d) {return y(d[1])})
	.attr("r", pointRadius)
	.attr("fill", function(d) {return brightnessColor(d[3])})
	.attr("stroke", "#808080")
	.attr("stroke-width", 1);

// right panel
svg.append("g").selectAll("circle")
	.data(fillPoints.concat(topPoints).map(function(d) {return [d[0], d[1], d[4]]}).concat(fracHighlights))
	.enter().append("circle")
	.attr("cx", function(d) {return x3(d[0])})
	.attr("cy", function(d) {return y(d[1])})
	.attr("r", pointRadius)
	.attr("fill", function(d) {return fracColor(d[2])})
	.attr("stroke", "#808080")
	.attr("stroke-width", 1);

function colorbar(id, color, ticks, left, width) {
	var scale = d3.scaleLinear().domain(color.domain()).range([571.5, 41]);
	var grad = svg.append("defs").append("linearGradient")
		.attr("id", id)
		.attr("x1", "0%").attr("y1", "100%")
		.attr("x2", "0%").attr("y2", "0%");
	d3.range(0, 1.001, 0.05).forEach(function(t) {
		grad.append("stop")
			.attr("offset", (t * 100) + "%")
			.attr("stop-color", d3.interpolateViridis(t));
	});
	svg.append("rect")
		.attr("x", left)
		.attr("y", 41)
		.attr("width", width)
		.attr("height", 530.5)
		.attr("fill", "url(#" + id + ")")
		.attr("stroke", "#b8b8b8")
		.attr("stroke-width", 1);

	var axis = svg.append("g")
		.attr("transform", "translate(" + (left + width) + ",0)")
		.call(d3.axisRight(scale).tickValues(ticks).tickSize(-5).tickPadding(7).tickFormat(d3.format(".1f")));
	axis.select(".domain").remove();
	axis.selectAll("text").style("font-size", "14px").style("font-family", '"DejaVu Sans", sans-serif');
	axis.selectAll(".tick").append("line")
		.attr("x1", -width)
		.attr("x2", -5)
		.attr("stroke", "#b0b0b0")
		.attr("stroke-dasharray", "3,2");
}
colorbar("barBrightness", brightnessColor, brightnessTicks, 1130, 24);
colorbar("barFrac", fracColor, fracTicks, 1727.5, 26);
</script>
</body>
</html>
